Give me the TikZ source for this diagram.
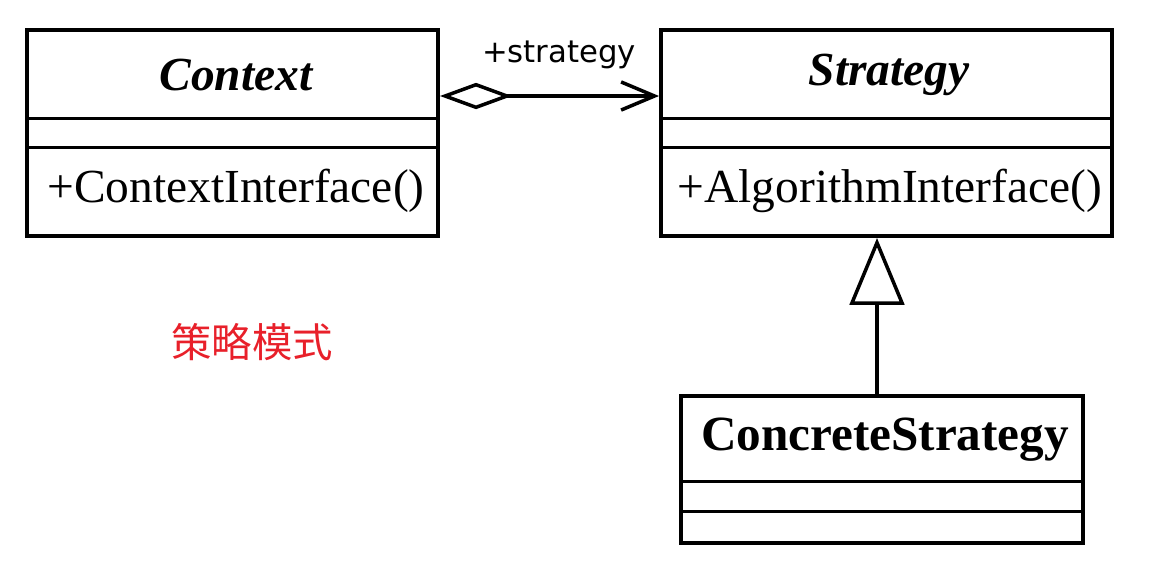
\documentclass[tikz,border=0pt]{standalone}
\usepackage{fontspec}
\setmainfont{Liberation Serif}
\newfontfamily\labelfont{DejaVu Sans}
\newfontfamily\cjk{Noto Sans CJK SC}
\usetikzlibrary{arrows.meta}

\definecolor{titlered}{HTML}{E8202A}

\begin{document}
\begin{tikzpicture}[x=0.02cm, y=-0.02cm,
    classbox/.style={draw, line width=2.3pt, inner sep=0pt},
    divider/.style={line width=1.7pt},
    classname/.style={inner sep=0pt, font=\fontsize{27}{30}\selectfont\bfseries\itshape},
    operation/.style={inner sep=0pt, font=\fontsize{27}{30}\selectfont},
    link/.style={line width=2pt}]
            \useasboundingbox (0,0) rectangle (1152,562);

            % Context class
            \node[classbox, minimum width=8.22cm, minimum height=4.12cm] (contextbox) at (232.5,133) {};
            \draw[divider] (27,118) -- (438,118);
            \draw[divider] (27,147) -- (438,147);
            \node[classname] (contextname) at (236,75) {Context};
            \node[operation] (contextop) at (236,191) {+ContextInterface()};

            % Strategy class
            \node[classbox, minimum width=9.02cm, minimum height=4.12cm] (strategybox) at (886.5,133) {};
            \draw[divider] (661,118) -- (1112,118);
            \draw[divider] (661,147) -- (1112,147);
            \node[classname] (strategyname) at (889,75) {Strategy};
            \node[operation] (strategyop) at (890,191) {+AlgorithmInterface()};

            % ConcreteStrategy class
            \node[classbox, minimum width=8.04cm, minimum height=2.94cm] (concretebox) at (882,469.5) {};
            \draw[divider] (681,481) -- (1083,481);
            \draw[divider] (681,511) -- (1083,511);
            \node[operation, font=\fontsize{28}{30}\selectfont\bfseries] (concretename) at (885,440) {ConcreteStrategy};

            % aggregation Context -> Strategy
            \coordinate (aggy) at (0,96);
            \draw[link, {Diamond[open, length=41pt, width=15pt]}-{Straight Barb[length=19pt, width=16pt]}]
            (contextbox.east |- aggy) -- (strategybox.west |- aggy);
            \node[inner sep=0pt, font=\fontsize{17.5}{19}\selectfont\labelfont] (rolelabel) at (559,55) {+strategy};

            % generalization ConcreteStrategy -> Strategy
            \coordinate (inhx) at (877,0);
            \draw[link, -{Triangle[open, length=38pt, width=31pt, fill=white]}]
            (concretebox.north -| inhx) -- (strategybox.south -| inhx);

            % caption
            \node[inner sep=0pt, text=titlered, font=\fontsize{23}{25}\selectfont\cjk] (title) at (252,342) {策略模式};
        \end{tikzpicture}
\end{document}
